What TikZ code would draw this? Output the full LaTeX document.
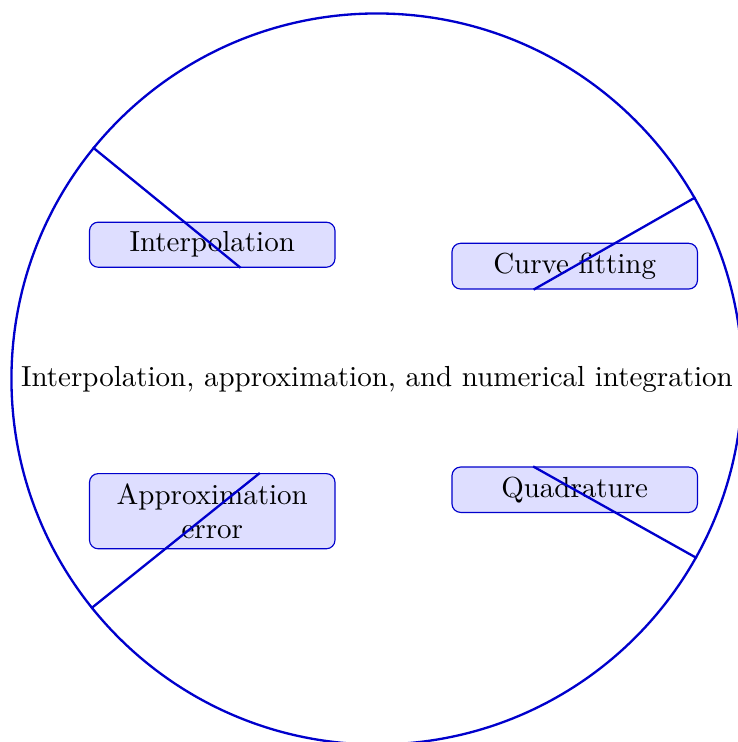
\documentclass[tikz,border=0pt]{standalone}
\usepackage{amsmath, amssymb, tikz}

\begin{document}
\begin{tikzpicture}[x=1pt,y=1pt,
        topic/.style={circle, draw=blue!80!black, thick, inner sep=3.33pt},
        subtopic/.style={draw=blue!80!black, fill=blue!13, rounded corners=3pt, text width=78pt, align=center, inner sep=3.33pt},
        link/.style={draw=blue!80!black, thick}]
        \useasboundingbox (-130,-125.2) rectangle (124.5,130.7);
        \node[topic] (root) at (0,0) {Interpolation, approximation, and numerical integration};
        \node[subtopic] (interp) at (-56.8,46.3) {Interpolation};
        \node[subtopic] (curvefit) at (68.2,38.9) {Curve fitting};
        \node[subtopic] (approx) at (-56.8,-45.6) {Approximation error};
        \node[subtopic] (quad) at (68.2,-38.2) {Quadrature};
        \draw[link] (root) -- (interp);
        \draw[link] (root) -- (curvefit);
        \draw[link] (root) -- (approx);
        \draw[link] (root) -- (quad);
    \end{tikzpicture}
\end{document}
